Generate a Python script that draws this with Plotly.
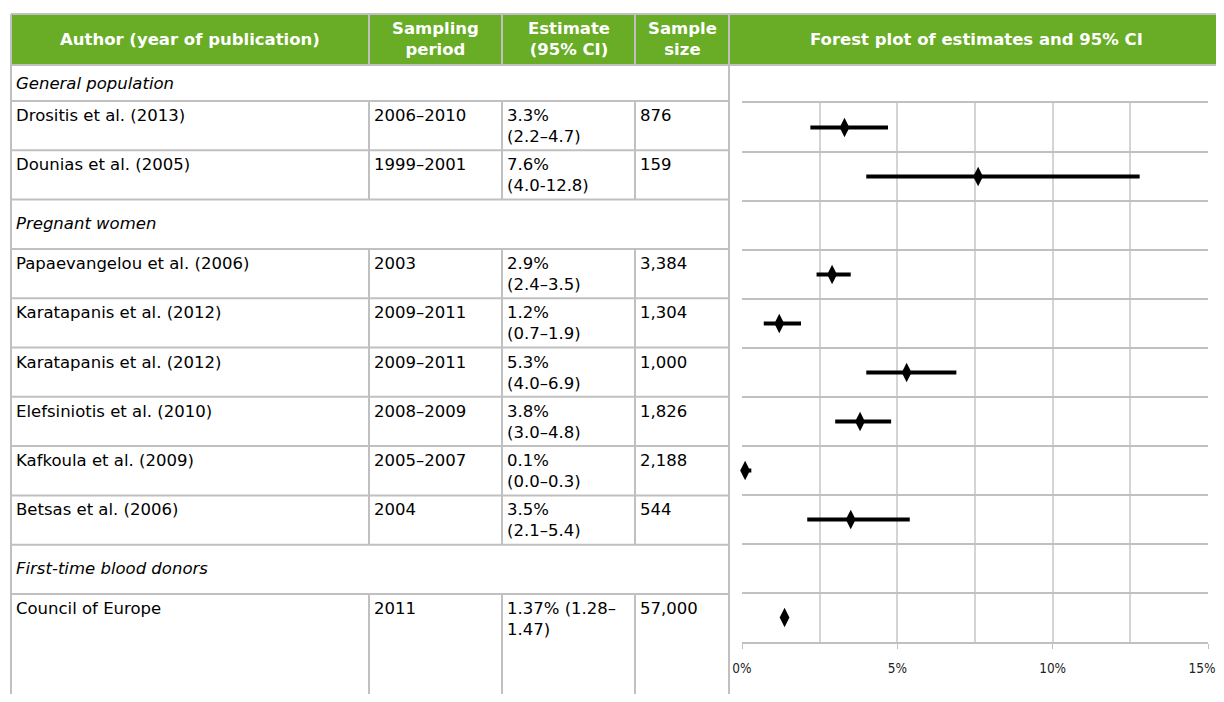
import plotly.graph_objects as go

# ---------------- data ----------------
groups = ["General population", "Pregnant women", "First-time blood donors"]
authors = ["Drositis et al. (2013)", "Dounias et al. (2005)",
           "Papaevangelou et al. (2006)", "Karatapanis et al. (2012)",
           "Karatapanis et al. (2012)", "Elefsiniotis et al. (2010)",
           "Kafkoula et al. (2009)", "Betsas et al. (2006)", "Council of Europe"]
study_group = [0, 0, 1, 1, 1, 1, 1, 1, 2]
periods = ["2006–2010", "1999–2001", "2003", "2009–2011", "2009–2011",
           "2008–2009", "2005–2007", "2004", "2011"]
estimate_labels = ["3.3%<br>(2.2–4.7)", "7.6%<br>(4.0-12.8)", "2.9%<br>(2.4–3.5)",
                   "1.2%<br>(0.7–1.9)", "5.3%<br>(4.0–6.9)", "3.8%<br>(3.0–4.8)",
                   "0.1%<br>(0.0–0.3)", "3.5%<br>(2.1–5.4)", "1.37% (1.28–<br>1.47)"]
sample_sizes = ["876", "159", "3,384", "1,304", "1,000", "1,826", "2,188", "544", "57,000"]
estimates = [3.3, 7.6, 2.9, 1.2, 5.3, 3.8, 0.1, 3.5, 1.37]
ci_low = [2.2, 4.0, 2.4, 0.7, 4.0, 3.0, 0.0, 2.1, 1.28]
ci_high = [4.7, 12.8, 3.5, 1.9, 6.9, 4.8, 0.3, 5.4, 1.47]
header_labels = ["Author (year of publication)", "Sampling<br>period",
                 "Estimate<br>(95% CI)", "Sample<br>size",
                 "Forest plot of estimates and 95% CI"]
x_tickvals = [0, 5, 10, 15]
x_ticktext = ["0%", "5%", "10%", "15%"]

# ---------------- layout geometry (screen pixels) ----------------
SCREEN_W, SCREEN_H = 1224, 702
OFF = 8                       # page body margin
W, H = SCREEN_W - OFF, SCREEN_H - 2 * OFF
GREEN = "#69AC25"
GRID = "#c0c0c0"
FONT = "DejaVu Sans"
FS = 16.5
col_x = [11, 369, 502, 635, 729, SCREEN_W]
head_top, head_bot = 14, 65
group1_bot = 101
row_h = 49.3
bottom = OFF + H


def X(px):
    return (px - OFF) / W


def Y(py):
    return 1 - (py - OFF) / H


# build row order
rows = []  # (kind, index)
for g, name in enumerate(groups):
    rows.append(("group", g))
    for i, sg in enumerate(study_group):
        if sg == g:
            rows.append(("study", i))

row_tops = [head_bot]
for r in range(1, len(rows)):
    row_tops.append(group1_bot + (r - 1) * row_h)
row_bots = row_tops[1:] + [bottom]

shapes = []
annotations = []


def hline(y, x0, x1, color=GRID, w=2):
    shapes.append(dict(type="line", xref="paper", yref="paper", x0=X(x0), x1=X(x1),
                       y0=Y(y), y1=Y(y), line=dict(color=color, width=w)))


def vline(x, y0, y1, color=GRID, w=2):
    shapes.append(dict(type="line", xref="paper", yref="paper", x0=X(x), x1=X(x),
                       y0=Y(y0), y1=Y(y1), line=dict(color=color, width=w)))


# header
shapes.append(dict(type="rect", xref="paper", yref="paper", x0=X(col_x[0]), x1=X(SCREEN_W),
                   y0=Y(head_bot), y1=Y(head_top), fillcolor=GREEN, line=dict(width=0)))
hline(head_top, col_x[0], SCREEN_W)
hline(head_bot, col_x[0], SCREEN_W)
for cx in col_x[1:5]:
    vline(cx, head_top, head_bot)
for c, lab in enumerate(header_labels):
    annotations.append(dict(xref="paper", yref="paper", x=X((col_x[c] + col_x[c + 1]) / 2),
                            y=Y((head_top + head_bot) / 2), text=lab, showarrow=False,
                            xanchor="center", yanchor="middle",
                            font=dict(family=FONT, size=FS, color="white", weight="bold")))

# body lines
vline(col_x[0], head_top, bottom)
vline(col_x[4], head_top, bottom)
for t in row_tops[1:]:
    hline(t, col_x[0], col_x[4])

# body text
forest_y = []
for r, (kind, idx) in enumerate(rows):
    top, bot = row_tops[r], row_bots[r]
    if kind == "group":
        mid = (top + bot) / 2 if r == 0 else top + row_h / 2 - 1
        annotations.append(dict(xref="paper", yref="paper", x=X(col_x[0] + 3),
                                y=Y(mid),
                                text="<i>" + groups[idx] + "</i>", showarrow=False,
                                xanchor="left", yanchor="middle",
                                font=dict(family=FONT, size=FS, color="black")))
    else:
        for cx in col_x[1:4]:
            vline(cx, top, bot)
        texts = [authors[idx], periods[idx], estimate_labels[idx], sample_sizes[idx]]
        for c, tx in enumerate(texts):
            annotations.append(dict(xref="paper", yref="paper", x=X(col_x[c] + 3),
                                    y=Y(top + 3), text=tx, showarrow=False,
                                    xanchor="left", yanchor="top", align="left",
                                    font=dict(family=FONT, size=FS, color="black")))
        forest_y.append(r - 0.5)

# ---------------- forest plot ----------------
fig = go.Figure()
fig.add_trace(go.Scatter(
    x=estimates, y=forest_y, mode="markers",
    marker=dict(symbol="diamond-tall", size=14, color="black"),
    error_x=dict(type="data", symmetric=False,
                 array=[h - e for h, e in zip(ci_high, estimates)],
                 arrayminus=[e - l for e, l in zip(estimates, ci_low)],
                 color="black", thickness=4, width=0),
    cliponaxis=False, showlegend=False, hoverinfo="skip"))

# the last tick label sits at the right page edge: pad it so it stays visible
tick_text_shown = x_ticktext[:-1] + [x_ticktext[-1] + "\u2002\u2002"]

n_bands = len(rows) - 1
fig.update_layout(
    width=W, height=H, autosize=False,
    margin=dict(l=0, r=0, t=0, b=0, pad=0, autoexpand=False),
    paper_bgcolor="white", plot_bgcolor="white",
    shapes=shapes, annotations=annotations,
    xaxis=dict(domain=[X(742), X(1208)], range=[0, 15], tickvals=x_tickvals,
               ticktext=tick_text_shown, ticks="outside", ticklen=5, tickcolor=GRID,
               showgrid=True, gridcolor="#d4d4d4", gridwidth=1.5,
               minor=dict(dtick=2.5, showgrid=True, gridcolor="#d4d4d4", gridwidth=1.5),
               zeroline=False, showline=True, mirror=True, linecolor=GRID, linewidth=2,
               ticklabelstandoff=8, automargin=False, ticklabeloverflow="allow",
               tickfont=dict(family="DejaVu Sans Condensed", size=13.5, color="#222")),
    yaxis=dict(domain=[Y(642), Y(103)], range=[n_bands, 0], dtick=1, tick0=0,
               showgrid=True, gridcolor=GRID, gridwidth=2, showticklabels=False,
               zeroline=False, showline=False, automargin=False),
)
fig.write_html("out.html")
